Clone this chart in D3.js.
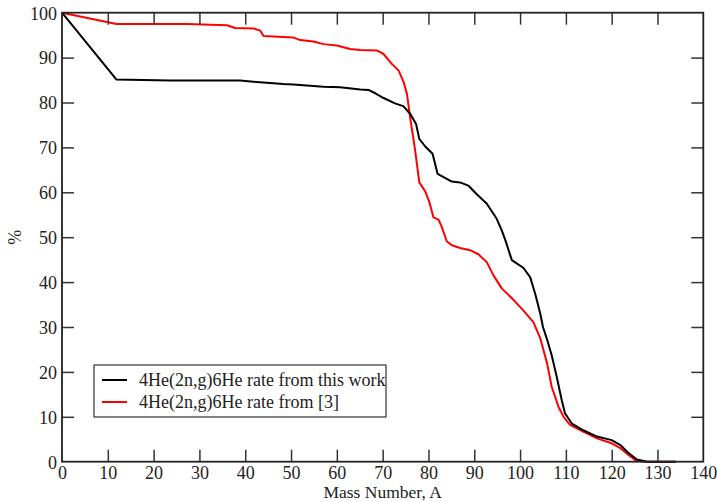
<!DOCTYPE html>
<html><head><meta charset="utf-8">
<script src="https://cdn.jsdelivr.net/npm/d3@7"></script>
<style>
html,body{margin:0;padding:0;background:#fff;}
svg{display:block;}
text{font-family:"Liberation Serif","Times New Roman",serif;fill:#222;}
</style></head>
<body>
<svg id="c" width="717" height="502"></svg>
<script>
const xTicks = [0,10,20,30,40,50,60,70,80,90,100,110,120,130,140];
const yTicks = [0,10,20,30,40,50,60,70,80,90,100];
const seriesNames = ["4He(2n,g)6He rate from this work", "4He(2n,g)6He rate from [3]"];
const seriesColors = ["#000000", "#ff0000"];

const thisWorkA = [0,11.9,23.6,38.9,43.2,48.3,50.5,57.1,60.7,65.1,66.9,68.5,70.2,72.7,74.5,76.0,77.3,78.0,79.3,80.9,82.0,85.1,86.9,88.7,90.6,92.7,94.9,96.0,96.8,98.2,99.5,100.7,102.2,103.3,104.4,105.0,105.9,106.9,108.0,109.1,109.8,111.3,113.8,116.8,120.0,121.9,123.7,125.5,127.7,134];
const thisWorkP = [100,85.1,84.9,84.9,84.5,84.1,84.0,83.5,83.4,82.9,82.8,82.0,81.0,79.8,79.2,77.5,75.2,71.9,70.2,68.6,64.1,62.4,62.2,61.5,59.5,57.5,54.1,51.5,49.3,44.9,44.0,43.2,41.1,37.4,33.0,30.0,27.2,23.7,18.9,13.7,10.8,8.5,7.0,5.6,4.8,3.7,1.9,0.5,0,0];

const ref3A = [0,11.9,27.2,36.0,37.8,41.8,43.3,44.0,50.5,52.0,54.9,57.1,60.0,62.9,65.1,68.7,70.2,72.0,73.5,74.6,75.3,76.0,77.1,78.0,79.3,80.2,81.1,82.2,82.9,84.0,85.1,86.9,89.1,90.9,92.7,94.2,96.0,98.6,100.7,102.9,104.4,105.9,106.9,108.4,109.5,110.9,113.8,116.8,120.0,121.9,123.7,125.1,127.0,134];
const ref3P = [100,97.5,97.5,97.2,96.6,96.5,96.0,94.8,94.5,93.9,93.6,93.0,92.7,91.9,91.7,91.6,90.8,88.6,87.1,84.5,81.9,76.7,69.3,62.2,60.2,57.8,54.4,53.9,52.3,49.1,48.2,47.6,47.1,46.2,44.5,41.5,38.6,36.0,33.7,31.1,27.5,21.9,16.7,12.2,10.0,8.2,6.7,5.2,4.1,3.0,1.5,0.4,0,0];

const series = [
  {name: seriesNames[0], color: seriesColors[0], pts: thisWorkA.map((a,i)=>[a, thisWorkP[i]])},
  {name: seriesNames[1], color: seriesColors[1], pts: ref3A.map((a,i)=>[a, ref3P[i]])}
];

const L = 62, R = 703.3, T = 12.7, B = 461.7;
const svg = d3.select("#c");
const x = d3.scaleLinear().domain([0,140]).range([L,R]);
const y = d3.scaleLinear().domain([0,100]).range([B,T]);
const fs = 18;
const FONT = '"Liberation Serif","Times New Roman",serif';

const line = d3.line().x(d=>x(d[0])).y(d=>y(d[1]));
[series[1], series[0]].forEach(s=>{
  svg.append("path").attr("d", line(s.pts)).attr("fill","none")
    .attr("stroke", s.color).attr("stroke-width",2).attr("stroke-linejoin","round");
});

const tl = 12;
const gBottom = svg.append("g").attr("transform",`translate(0,${B})`)
  .call(d3.axisBottom(x).tickValues(xTicks).tickSize(-tl).tickFormat(d3.format("d")));
const gTop = svg.append("g").attr("transform",`translate(0,${T})`)
  .call(d3.axisTop(x).tickValues(xTicks).tickSize(-tl).tickFormat(""));
const gLeft = svg.append("g").attr("transform",`translate(${L},0)`)
  .call(d3.axisLeft(y).tickValues(yTicks).tickSize(-tl).tickFormat(d3.format("d")));
const gRight = svg.append("g").attr("transform",`translate(${R},0)`)
  .call(d3.axisRight(y).tickValues(yTicks).tickSize(-tl).tickFormat(""));
[gBottom,gTop,gLeft,gRight].forEach(g=>{
  g.attr("font-family", FONT).attr("font-size", fs);
  g.select(".domain").remove();
  g.selectAll(".tick line").attr("stroke","#333").attr("stroke-width",1.5);
  g.selectAll(".tick text").style("font-size",fs+"px").style("font-family",FONT).attr("fill","#222");
});
gBottom.selectAll(".tick text").attr("dy",null).attr("y", 17);
gLeft.selectAll(".tick text").attr("x",-5).attr("dy","0.35em");
gBottom.selectAll(".tick").filter(d=>d===0||d===140).select("line").remove();
gTop.selectAll(".tick").filter(d=>d===0||d===140).select("line").remove();
gLeft.selectAll(".tick").filter(d=>d===0||d===100).select("line").remove();
gRight.selectAll(".tick").filter(d=>d===0||d===100).select("line").remove();

svg.append("rect").attr("x",L).attr("y",T).attr("width",R-L).attr("height",B-T)
  .attr("fill","none").attr("stroke","#222").attr("stroke-width",1.8);

svg.append("text").attr("x",(L+R)/2).attr("y",498.3).attr("text-anchor","middle")
  .style("font-size","17.5px").text("Mass Number, A");
svg.append("text").attr("transform",`translate(21,${(T+B)/2}) rotate(-90)`).attr("text-anchor","middle")
  .style("font-size",fs+"px").text("%");

const lg = svg.append("g");
lg.append("rect").attr("x",94).attr("y",365).attr("width",292).attr("height",52)
  .attr("fill","#fff").attr("stroke","#333").attr("stroke-width",1.2);
series.forEach((s,i)=>{
  const yy = 380 + i*22;
  lg.append("line").attr("x1",102).attr("x2",127).attr("y1",yy).attr("y2",yy)
    .attr("stroke",s.color).attr("stroke-width",2);
  lg.append("text").attr("x",139).attr("y",yy+6).style("font-size",fs+"px").text(s.name);
});
</script>
</body></html>
